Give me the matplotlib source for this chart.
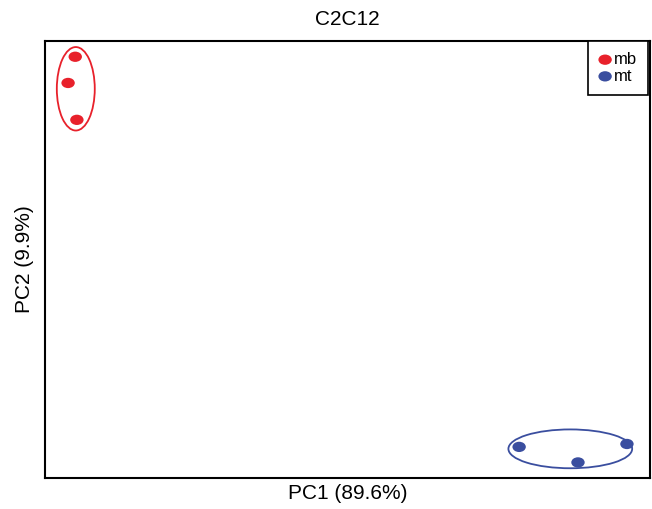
import matplotlib.pyplot as plt
from matplotlib.patches import Ellipse
from matplotlib.markers import MarkerStyle
from matplotlib.transforms import Affine2D
import numpy as np

plt.rcParams['font.family'] = ['Liberation Sans', 'DejaVu Sans']

# PCA scores
groups = ['mb', 'mt']
colors = {'mb': '#e8212b', 'mt': '#3a4e9f'}
pc1 = {'mb': [-44.5, -45.8, -44.2], 'mt': [36.2, 46.9, 55.8]}
pc2 = {'mb': [18.4, 15.7, 11.9], 'mt': [-21.8, -23.4, -21.5]}
# ellipses drawn around each group (centre, width, height in PC units)
ell_center = {'mb': (-44.4, 15.1), 'mt': (45.5, -22.0)}
ell_size = {'mb': (6.9, 8.6), 'mt': (22.5, 4.0)}

fig = plt.figure(figsize=(6.52, 5.09), dpi=100)
ax = fig.add_axes([0.069, 0.061, 0.928, 0.858])

mk = MarkerStyle('o', transform=Affine2D().scale(1.3, 1.0))
for g in groups:
    ax.scatter(pc1[g], pc2[g], marker=mk, s=55, color=colors[g], edgecolors='none',
               label=g, zorder=3)
    w, h = ell_size[g]
    ax.add_patch(Ellipse(ell_center[g], w, h, fill=False, edgecolor=colors[g], lw=1.3))

ax.set_xlim(-50, 60)
ax.set_ylim(-25, 20)
ax.set_xticks([])
ax.set_yticks([])
for s in ax.spines.values():
    s.set_linewidth(1.5)

ax.set_title('C2C12', fontsize=15, pad=12)
ax.set_xlabel('PC1 (89.6%)', fontsize=15, labelpad=4)
ax.set_ylabel('PC2 (9.9%)', fontsize=15, labelpad=8)

leg = ax.legend(loc='upper right', borderaxespad=0.0, fancybox=False, edgecolor='black',
                handlelength=0.7, handletextpad=0.2, labelspacing=0.1, fontsize=12,
                borderpad=0.65, framealpha=1, bbox_to_anchor=(0.997, 1.0))
leg.get_frame().set_linewidth(1.2)

fig.savefig('out.png', dpi=100)
